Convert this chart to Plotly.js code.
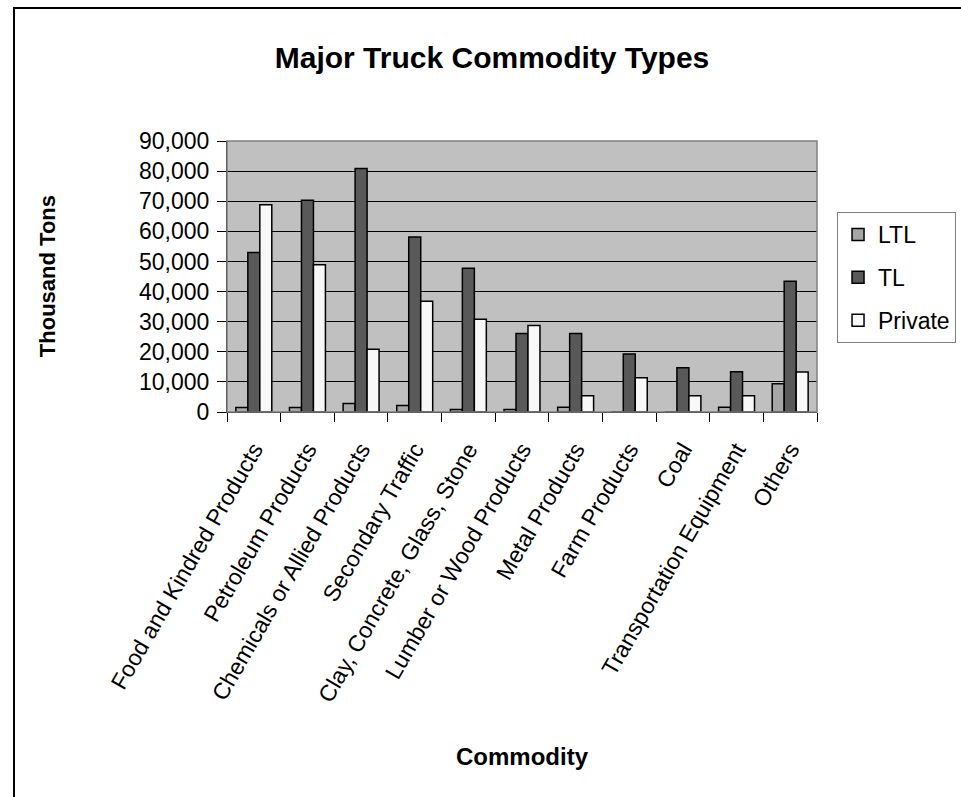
<!DOCTYPE html>
<html>
<head>
<meta charset="utf-8">
<script src="https://cdn.plot.ly/plotly-3.0.1.min.js"></script>
<style>
  html, body { margin: 0; padding: 0; background: #fff; overflow: hidden; }
  #chart { width: 961px; height: 797px; }
  #frame { position: absolute; left: 13px; top: 7px; width: 1000px; height: 1000px;
           border: 2px solid #000; pointer-events: none; }
</style>
</head>
<body>
<div id="chart"></div>
<div id="frame"></div>
<script>
// Commodity categories (thousand tons by carrier type)
const commodities = [
  "Food and Kindred Products",
  "Petroleum Products",
  "Chemicals or Allied Products",
  "Secondary Traffic",
  "Clay, Concrete, Glass, Stone",
  "Lumber or Wood Products",
  "Metal Products",
  "Farm Products",
  "Coal",
  "Transportation Equipment",
  "Others"
];
const ltl     = [1500, 1500, 2800, 2200, 800, 800, 1600, 0, 0, 1600, 9400];
const tl      = [53000, 70300, 80900, 58100, 47700, 26100, 26100, 19300, 14700, 13400, 43400];
const priv    = [68800, 48900, 20800, 36800, 30800, 28700, 5400, 11400, 5400, 5400, 13300];
const yTicks  = [0, 10000, 20000, 30000, 40000, 50000, 60000, 70000, 80000, 90000];

const FONT = "Liberation Sans, Arial, sans-serif";
const outline = { color: "#000", width: 1.5 };

const traces = [
  { name: "LTL", y: ltl, color: "#a6a6a6" },
  { name: "TL", y: tl, color: "#595959" },
  { name: "Private", y: priv, color: "#f8f8f8" }
].map(s => ({
  type: "bar",
  name: s.name,
  legendgroup: s.name,
  x: commodities,
  y: s.y,
  marker: { color: s.color, line: outline },
  hoverinfo: "x+y+name"
}));

const layout = {
  width: 961,
  height: 797,
  margin: { l: 227, r: 144, t: 141, b: 385 },
  paper_bgcolor: "#fff",
  plot_bgcolor: "#c0c0c0",
  font: { family: FONT, size: 23, color: "#000" },
  barmode: "group",
  bargap: 0.33,
  bargroupgap: 0,
  title: {
    text: "<b>Major Truck Commodity Types</b>",
    font: { family: FONT, size: 30, color: "#000" },
    xref: "container", x: 0.512, xanchor: "center",
    yref: "container", y: 0.928, yanchor: "middle"
  },
  xaxis: {
    type: "category",
    tickangle: -60,
    tickfont: { family: FONT, size: 23 },
    ticks: "outside",
    ticklen: 9,
    tickcolor: "#000",
    tickson: "boundaries",
    ticklabelstandoff: 14,
    showline: true,
    linecolor: "#000",
    linewidth: 1,
    showgrid: false,
    automargin: false
  },
  yaxis: {
    range: [0, 90000],
    tickvals: yTicks,
    tickformat: ",d",
    tickfont: { family: FONT, size: 23 },
    ticks: "outside",
    ticklen: 9,
    tickcolor: "#000",
    ticklabelstandoff: 3,
    showline: true,
    linecolor: "#000",
    linewidth: 1,
    showgrid: true,
    gridcolor: "#000",
    gridwidth: 1,
    zeroline: false,
    automargin: false
  },
  shapes: [
    { type: "rect", xref: "paper", yref: "paper", x0: 0, x1: 1, y0: 0, y1: 1,
      line: { color: "#808080", width: 1.5 }, fillcolor: "rgba(0,0,0,0)", layer: "above" }
  ],
  legend: {
    xref: "container", x: 0.871, xanchor: "left",
    yref: "container", y: 0.734, yanchor: "top",
    bgcolor: "#fff",
    bordercolor: "#808080",
    borderwidth: 1,
    font: { family: FONT, size: 23 },
    itemwidth: 30,
    traceorder: "grouped",
    tracegroupgap: 10
  },
  annotations: [
    { text: "<b>Thousand Tons</b>", textangle: -90, showarrow: false,
      xref: "paper", x: -0.304, xanchor: "center",
      yref: "paper", y: 0.5, yanchor: "middle",
      font: { family: FONT, size: 22 } },
    { text: "<b>Commodity</b>", showarrow: false,
      xref: "paper", x: 0.5, xanchor: "center",
      yref: "paper", y: -1.273, yanchor: "middle",
      font: { family: FONT, size: 24 } }
  ],
  showlegend: true
};

Plotly.newPlot("chart", traces, layout, { displayModeBar: false, staticPlot: true });
</script>
</body>
</html>
